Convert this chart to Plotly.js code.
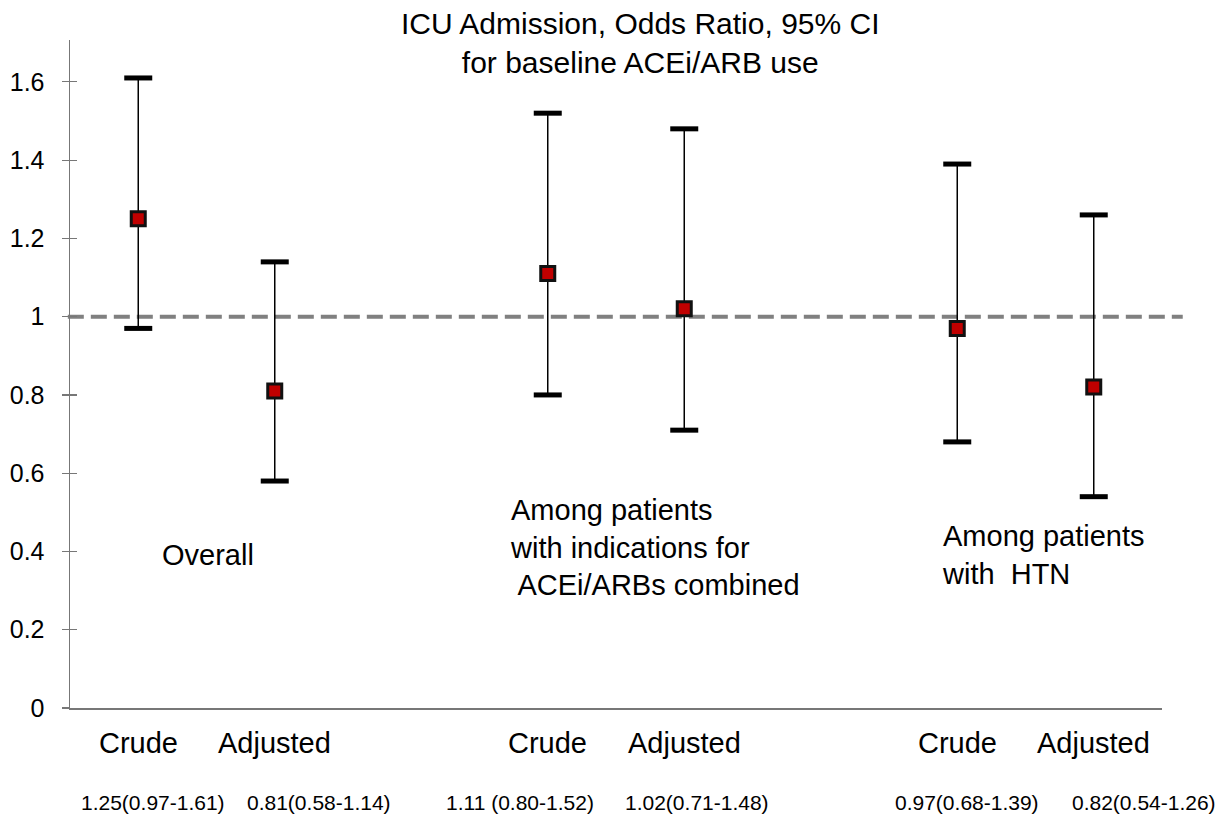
<!DOCTYPE html>
<html><head><meta charset="utf-8">
<script src="https://cdn.plot.ly/plotly-3.0.1.min.js"></script>
<style>body{margin:0;background:#fff}#c{width:1229px;height:817px}</style>
</head><body><div id="c"></div>
<script>
const categories = ["Crude","Adjusted","Crude","Adjusted","Crude","Adjusted"];
const xPos = [0.5,1.5,3.5,4.5,6.5,7.5];
const oddsRatio = [1.25,0.81,1.11,1.02,0.97,0.82];
const ciLow = [0.97,0.58,0.80,0.71,0.68,0.54];
const ciHigh = [1.61,1.14,1.52,1.48,1.39,1.26];
const ciLabels = ["1.25(0.97-1.61)","0.81(0.58-1.14)","1.11 (0.80-1.52)","1.02(0.71-1.48)","0.97(0.68-1.39)","0.82(0.54-1.26)"];
const ciLabelShift = [15,44,-28,13,10,50];
const groupLabels = ["Overall","Among patients<br>with indications for<br> ACEi/ARBs combined","Among patients<br>with  HTN"];
const groupLabelX = [0.66,3.21,6.37];
const groupLabelY = [0.391,0.409,0.391];

const font = "Liberation Sans, Arial, sans-serif";
const traces = [
  {x:xPos,y:oddsRatio,type:"scatter",mode:"markers",
   error_y:{type:"data",symmetric:false,array:oddsRatio.map((v,i)=>ciHigh[i]-v),arrayminus:oddsRatio.map((v,i)=>v-ciLow[i]),color:"#000",thickness:1.5,width:0},
   marker:{symbol:"square",size:1,color:"rgba(0,0,0,0)"},showlegend:false,hoverinfo:"skip"},
  {x:xPos.concat(xPos),y:ciHigh.concat(ciLow),type:"scatter",mode:"markers",
   marker:{symbol:"line-ew",size:20,line:{color:"#000",width:5}},showlegend:false,hoverinfo:"skip"},
  {x:xPos,y:oddsRatio,type:"scatter",mode:"markers",
   marker:{symbol:"square",size:14,color:"#c00000",line:{color:"#111",width:3}},showlegend:false}
];
const annotations = [];
xPos.forEach((x,i)=>{
  annotations.push({x:x,xref:"x",y:-0.0524,yref:"paper",text:categories[i],showarrow:false,font:{family:font,size:29,color:"#000"},xanchor:"center",yanchor:"middle"});
  annotations.push({x:x,xref:"x",y:-0.141,yref:"paper",text:ciLabels[i],xshift:ciLabelShift[i],showarrow:false,font:{family:font,size:21,color:"#000"},xanchor:"center",yanchor:"middle"});
});
groupLabels.forEach((t,i)=>{
  annotations.push({x:groupLabelX[i],xref:"x",y:groupLabelY[i],yref:"y",text:t,showarrow:false,align:"left",xanchor:"left",yanchor:"middle",font:{family:font,size:29,color:"#000"}});
});
annotations.push({x:0.522,xref:"paper",y:0.996,yref:"paper",text:"ICU Admission, Odds Ratio, 95% CI<br>for baseline ACEi/ARB use",showarrow:false,xanchor:"center",yanchor:"middle",align:"center",font:{family:font,size:30,color:"#000"}});
const layout = {
  width:1229,height:817,
  margin:{l:70,r:67,t:40,b:109},
  paper_bgcolor:"#fff",plot_bgcolor:"#fff",
  font:{family:font,color:"#000"},
  xaxis:{range:[0,8],showgrid:false,zeroline:false,showline:true,linecolor:"#777",linewidth:1.5,showticklabels:false,ticks:""},
  yaxis:{range:[0,1.707],tickvals:[0,0.2,0.4,0.6,0.8,1,1.2,1.4,1.6],ticktext:["0","0.2","0.4","0.6","0.8","1","1.2","1.4","1.6"],
    showgrid:false,zeroline:false,showline:true,linecolor:"#777",linewidth:1.5,ticks:"outside",ticklen:7,tickcolor:"#777",tickwidth:1.2,
    ticklabelstandoff:12,tickfont:{family:font,size:25,color:"#000"}},
  yaxis2:{range:[0,1.707],overlaying:"y",side:"left",tickvals:[0,0.2,0.4,0.6,0.8,1,1.2,1.4,1.6],showticklabels:false,ticks:"inside",ticklen:7,tickcolor:"#777",tickwidth:1.2,showgrid:false,zeroline:false,showline:false},
  shapes:[{type:"line",xref:"paper",x0:-0.002,x1:1.019,yref:"y",y0:1,y1:1,line:{color:"#808080",width:4,dash:"16px,7px"},layer:"below"}],
  annotations:annotations
};
traces.push({x:[0],y:[0],yaxis:"y2",type:"scatter",mode:"markers",marker:{opacity:0},showlegend:false,hoverinfo:"skip"});
Plotly.newPlot("c",traces,layout,{displayModeBar:false,staticPlot:true});
</script></body></html>
